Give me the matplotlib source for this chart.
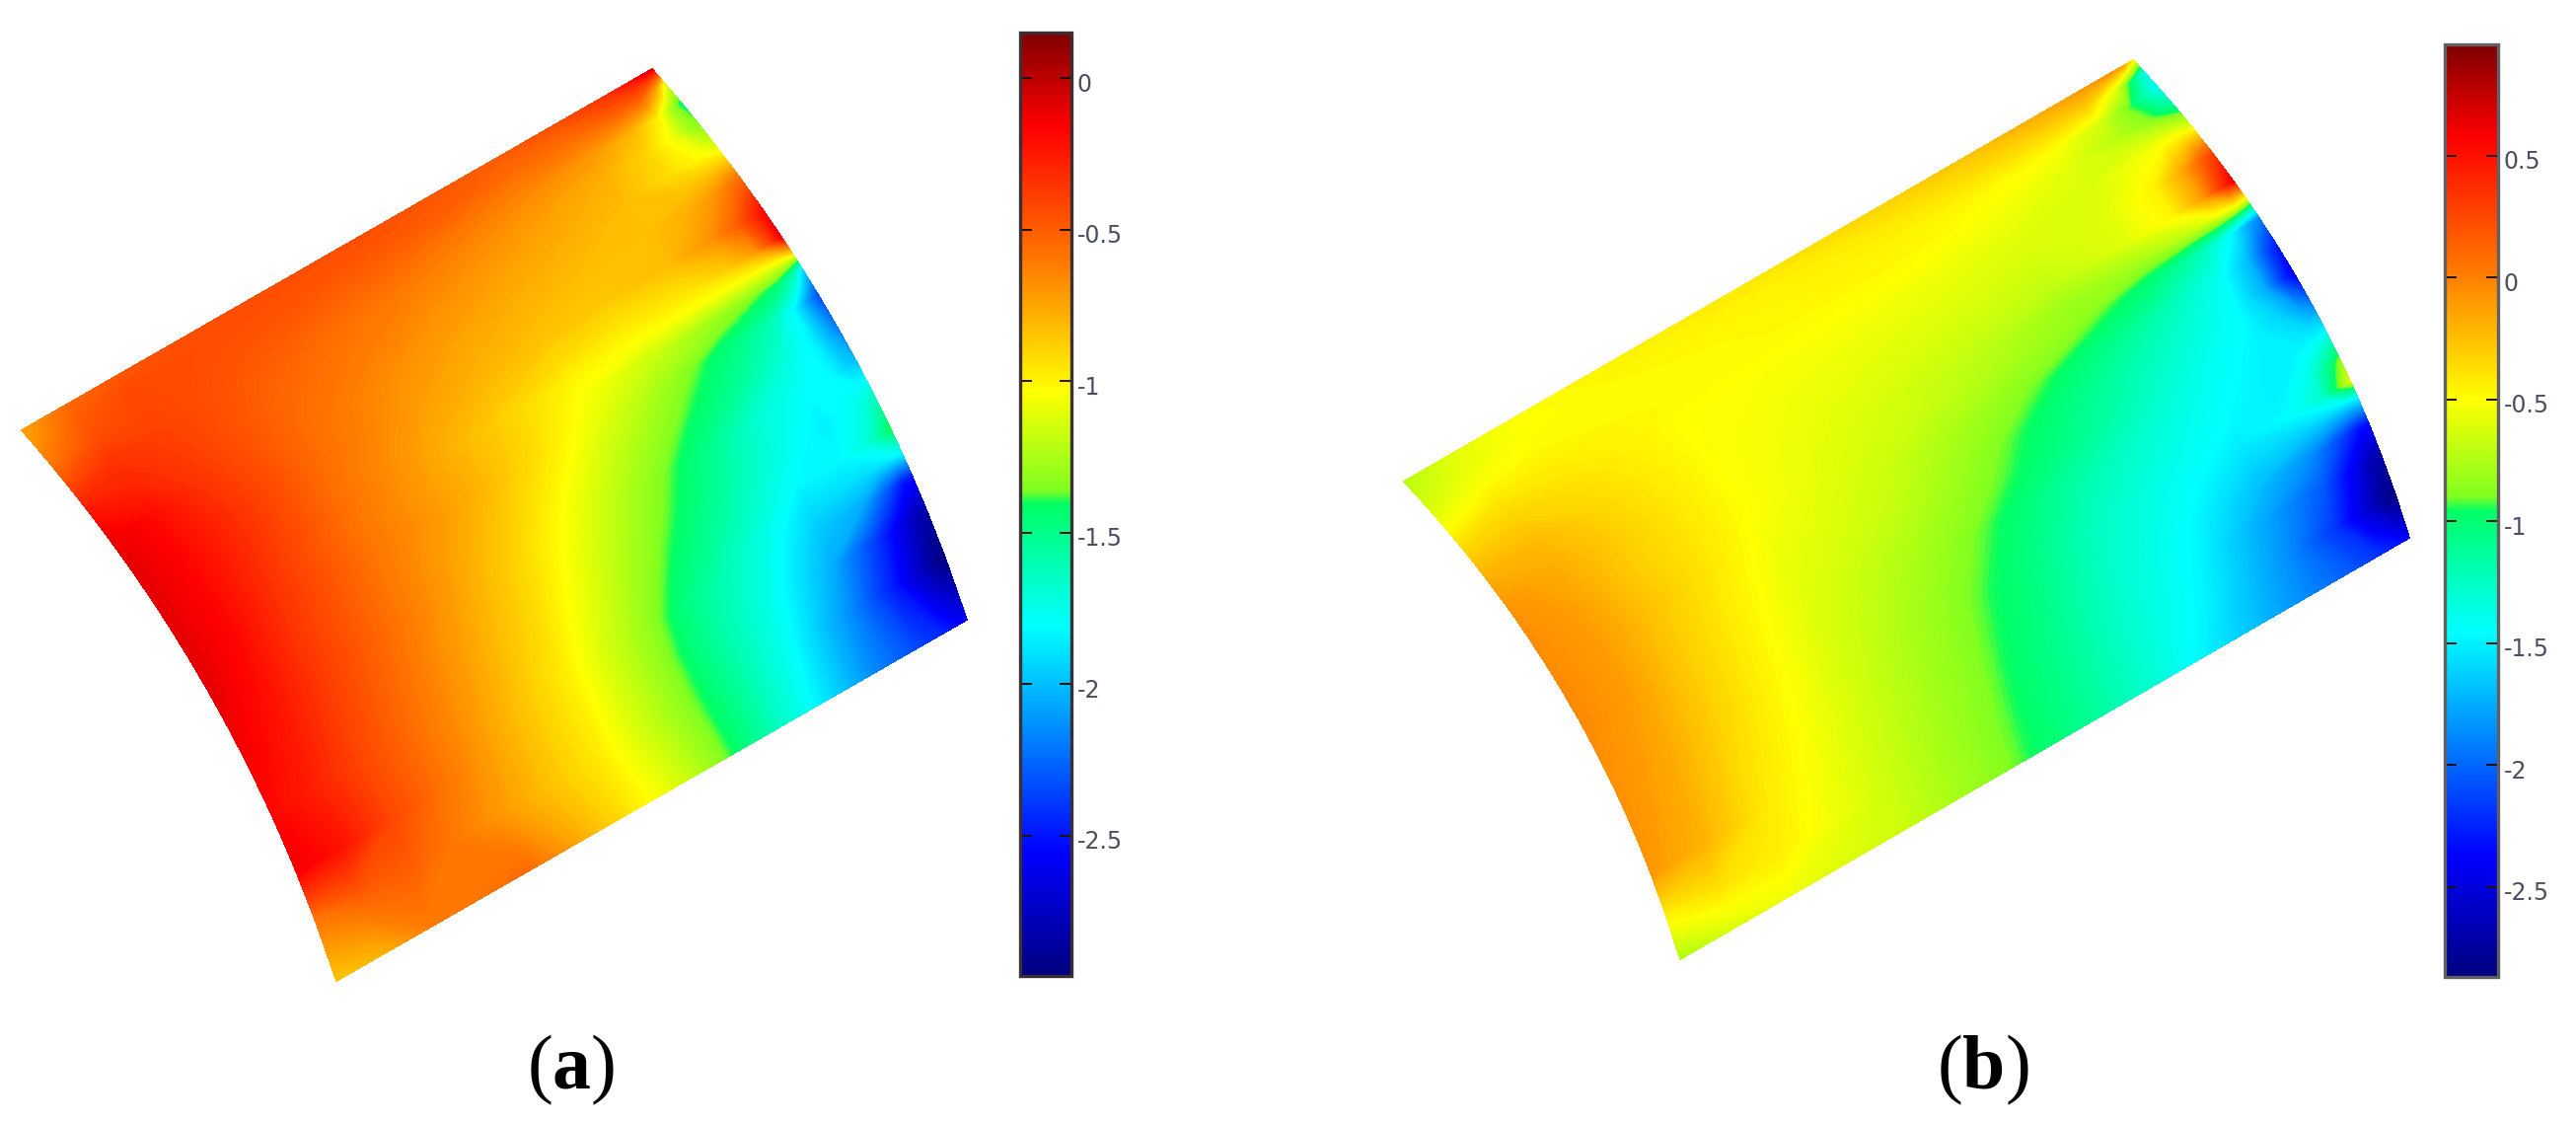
import numpy as np
import matplotlib
matplotlib.use("Agg")
import matplotlib.pyplot as plt
from matplotlib.cm import ScalarMappable
from matplotlib.colors import LinearSegmentedColormap, Normalize
from matplotlib.transforms import ScaledTranslation

plt.rcParams['font.family'] = ['Liberation Serif', 'DejaVu Serif']
plt.rcParams['mathtext.fontset'] = 'custom'
plt.rcParams['mathtext.rm'] = 'Liberation Serif'
plt.rcParams['mathtext.bf'] = 'Liberation Serif:bold'

# positions across the plate, arc on the left (0) to arc on the right (1)
across = [0, .07, .15, .3, .45, .55, .65, .75, .85, .92, .96, .985, 1]

# positions along the arcs, top edge (0) to bottom edge (1)
along_a = [0, .03, .07, .11, .16, .22, .28, .33, .36, .39, .44, .5, .56, .62, .68, .72, .76, .82, .9, 1]
field_a = [
    [-.75, -.55, -.48, -.45, -.45, -.45, -.48, -.5, -.45, -.35, -.25, -.12, -.1],
    [-.7, -.5, -.43, -.45, -.47, -.48, -.5, -.55, -.55, -.5, -.5, -.75, -1.1],
    [-.6, -.45, -.42, -.47, -.52, -.55, -.6, -.65, -.7, -.8, -.98, -1.3, -1.45],
    [-.45, -.35, -.4, -.5, -.58, -.62, -.67, -.72, -.78, -.9, -1.08, -1.28, -1.35],
    [-.25, -.3, -.38, -.53, -.62, -.68, -.73, -.77, -.82, -.92, -1.0, -1.05, -1.1],
    [-.12, -.2, -.35, -.55, -.68, -.74, -.79, -.82, -.83, -.78, -.7, -.6, -.55],
    [-.1, -.18, -.32, -.56, -.72, -.79, -.84, -.86, -.82, -.68, -.5, -.32, -.2],
    [-.1, -.18, -.32, -.58, -.76, -.85, -.93, -.97, -.95, -.85, -.7, -.4, -.12],
    [-.1, -.18, -.33, -.58, -.78, -.9, -1.0, -1.04, -1.05, -1.05, -1.04, -1.0, -.9],
    [-.1, -.18, -.34, -.6, -.78, -.9, -1.04, -1.15, -1.27, -1.35, -1.42, -1.6, -1.9],
    [-.1, -.18, -.35, -.6, -.78, -.93, -1.1, -1.27, -1.45, -1.6, -1.82, -2.15, -2.35],
    [-.1, -.2, -.37, -.62, -.83, -1.0, -1.19, -1.37, -1.55, -1.72, -1.85, -2.05, -2.2],
    [-.12, -.22, -.38, -.63, -.88, -1.07, -1.27, -1.47, -1.7, -1.8, -1.82, -1.95, -2.0],
    [-.14, -.24, -.4, -.66, -.91, -1.12, -1.33, -1.53, -1.74, -1.86, -1.78, -1.72, -1.65],
    [-.17, -.26, -.42, -.68, -.94, -1.17, -1.4, -1.6, -1.82, -1.82, -1.72, -1.55, -1.4],
    [-.18, -.28, -.43, -.69, -.96, -1.2, -1.45, -1.66, -1.9, -1.9, -1.9, -1.85, -1.82],
    [-.15, -.25, -.43, -.7, -.98, -1.23, -1.5, -1.7, -1.97, -2.05, -2.3, -2.5, -2.5],
    [-.14, -.22, -.42, -.71, -.98, -1.24, -1.52, -1.75, -2.05, -2.4, -2.65, -2.8, -2.85],
    [-.6, -.5, -.5, -.72, -.97, -1.23, -1.5, -1.78, -2.15, -2.5, -2.75, -2.92, -2.95],
    [-.85, -.8, -.62, -.55, -.92, -1.15, -1.47, -1.8, -2.15, -2.35, -2.45, -2.55, -2.6],
]

along_b = [0, .03, .07, .11, .16, .22, .28, .32, .36, .42, .48, .54, .6, .66, .7, .73, .78, .84, .92, 1]
field_b = [
    [-.72, -.58, -.5, -.45, -.42, -.38, -.33, -.28, -.2, -.12, -.08, -.15, -.5],
    [-.68, -.57, -.5, -.47, -.46, -.44, -.4, -.36, -.32, -.3, -.6, -1.1, -1.4],
    [-.62, -.52, -.48, -.49, -.47, -.46, -.46, -.47, -.5, -.65, -.95, -1.25, -1.4],
    [-.52, -.42, -.44, -.48, -.48, -.48, -.48, -.52, -.58, -.72, -.85, -1.0, -1.1],
    [-.35, -.32, -.38, -.5, -.52, -.53, -.55, -.58, -.62, -.55, -.5, -.5, -.55],
    [-.2, -.22, -.33, -.5, -.55, -.58, -.6, -.63, -.6, -.45, -.15, .15, .3],
    [-.1, -.17, -.3, -.5, -.58, -.62, -.66, -.7, -.6, -.45, -.1, .35, .6],
    [-.07, -.15, -.3, -.5, -.6, -.66, -.72, -.8, -.78, -.68, -.55, -.5, -.6],
    [-.05, -.13, -.3, -.5, -.62, -.68, -.76, -.85, -1.0, -1.2, -1.45, -1.75, -1.9],
    [-.05, -.12, -.28, -.53, -.65, -.76, -.88, -1.03, -1.2, -1.4, -1.7, -2.1, -2.3],
    [-.04, -.12, -.3, -.56, -.68, -.82, -.98, -1.14, -1.3, -1.45, -1.75, -2.2, -2.45],
    [-.04, -.12, -.31, -.58, -.74, -.88, -1.03, -1.2, -1.38, -1.48, -1.6, -1.8, -1.95],
    [-.05, -.14, -.32, -.6, -.79, -.95, -1.14, -1.29, -1.43, -1.5, -1.5, -1.5, -1.47],
    [-.06, -.15, -.33, -.61, -.83, -.99, -1.2, -1.35, -1.47, -1.5, -1.35, -1.05, -.85],
    [-.07, -.16, -.35, -.62, -.85, -1.02, -1.24, -1.39, -1.52, -1.45, -1.3, -.9, -.6],
    [-.07, -.17, -.36, -.62, -.86, -1.03, -1.25, -1.41, -1.58, -1.58, -1.55, -1.5, -1.45],
    [-.08, -.18, -.38, -.63, -.87, -1.05, -1.27, -1.45, -1.68, -1.85, -2.1, -2.3, -2.3],
    [-.1, -.2, -.4, -.64, -.88, -1.07, -1.29, -1.48, -1.8, -2.05, -2.4, -2.65, -2.7],
    [-.45, -.38, -.43, -.65, -.89, -1.08, -1.3, -1.52, -1.85, -2.2, -2.55, -2.8, -2.86],
    [-.75, -.62, -.55, -.65, -.89, -1.08, -1.31, -1.58, -1.85, -2.05, -2.2, -2.3, -2.4],
]

ticks_a = [0, -.5, -1, -1.5, -2, -2.5]
ticklabels_a = ['0', '-0.5', '-1', '-1.5', '-2', '-2.5']
ticks_b = [.5, 0, -.5, -1, -1.5, -2, -2.5]
ticklabels_b = ['0.5', '0', '-0.5', '-1', '-1.5', '-2', '-2.5']

# colour scale, a jet with a jump where yellow-green meets green
jet_stops = [
    (0, '#800000'), (.1, '#ff0000'), (.25, '#ff8000'), (.38, '#ffff00'),
    (.485, '#80ff20'), (.5, '#00ff64'), (.58, '#00ffc8'), (.63, '#00ffff'),
    (.75, '#0080ff'), (.87, '#0000ff'), (1, '#000080'),
]
cmap = LinearSegmentedColormap.from_list('plate', jet_stops, N=512).reversed()

fig = plt.figure(figsize=(26.11, 11.38), dpi=100)
ax = fig.add_axes([0, 0, 1, 1])
ax.set_xlim(0, 2611)
ax.set_ylim(1138, 0)
ax.axis('off')


def draw_plate(left, top, bottom, field, along, vmin, vmax, sag=33):
    s, t = np.meshgrid(across, along)
    d = np.array(top) - np.array(left)
    e = np.array(bottom) - np.array(left)
    dhat = d / np.hypot(*d)
    bow = sag * 4 * t * (1 - t)
    x = left[0] + s * d[0] + t * e[0] + bow * dhat[0]
    y = left[1] + s * d[1] + t * e[1] + bow * dhat[1]
    levels = np.linspace(vmin, vmax, 300)
    cf = ax.contourf(x, y, np.array(field), levels=levels, cmap=cmap,
                     vmin=vmin, vmax=vmax, extend='both')
    cf.set_edgecolor('face')
    cf.set_linewidth(.4)


def draw_bar(x0, x1, y0, y1, vmin, vmax, ticks, ticklabels, edge):
    cax = fig.add_axes([x0 / 2611, 1 - y1 / 1138, (x1 - x0) / 2611, (y1 - y0) / 1138])
    cb = fig.colorbar(ScalarMappable(Normalize(vmin, vmax), cmap), cax=cax)
    cb.set_ticks(ticks)
    cb.set_ticklabels(ticklabels)
    cax.tick_params(axis='y', which='major', direction='in', left=True, right=True,
                    length=8.5, width=1.4, color='#201010', pad=4,
                    labelsize=17, labelcolor='#4a4e5e')
    for lab in cax.get_yticklabels():
        lab.set_fontfamily(['DejaVu Sans'])
        lab.set_transform(lab.get_transform() + ScaledTranslation(0, -.04, fig.dpi_scale_trans))
    cb.outline.set_edgecolor(edge)
    cb.outline.set_linewidth(2.4)
    cb.minorticks_off()


draw_plate((22, 436), (661, 70), (341, 994), field_a, along_a, -2.964, .15)
draw_bar(1034, 1086, 33, 989, -2.964, .15, ticks_a, ticklabels_a, '#3a3034')

draw_plate((1423, 488), (2162, 61), (1703, 972), field_b, along_b, -2.87, .957)
draw_bar(2478, 2532, 45, 990, -2.87, .957, ticks_b, ticklabels_b, '#606064')

ax.text(579, 1084, r'($\mathbf{a}$)', fontsize=56, ha='center', va='center', color='black')
ax.text(2010, 1084, r'($\mathbf{b}$)', fontsize=56, ha='center', va='center', color='black')

fig.savefig('out.png', dpi=100, facecolor='white')
